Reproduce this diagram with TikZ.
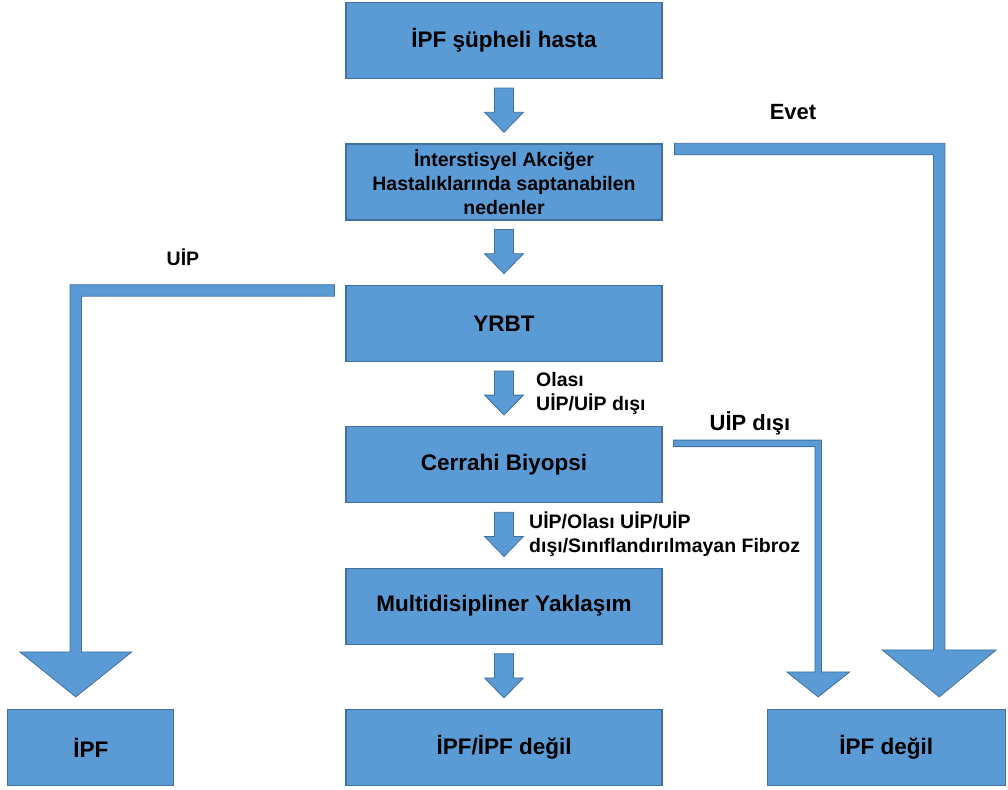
\documentclass[tikz,border=0pt]{standalone}
\usepackage{fontspec}
\setmainfont{Liberation Sans}
\usetikzlibrary{calc,positioning}
\definecolor{boxfill}{HTML}{5B9BD5}
\definecolor{boxline}{HTML}{41719C}
\tikzset{
  box/.style={draw=boxline, fill=boxfill, line width=1.2pt, minimum width=316pt, minimum height=76pt, align=center, inner sep=2pt, font=\bfseries\fontsize{22.5}{27}\selectfont},
  fatarrow/.style={draw=boxline, fill=boxfill, line width=0.8pt, line join=miter},
  lbl/.style={font=\bfseries\fontsize{19.5}{24}\selectfont, align=left, inner sep=0pt},
  biglbl/.style={lbl, font=\bfseries\fontsize{22}{26}\selectfont},
}
% block arrow between two boxes
\newcommand\fatdown[2]{%
  \filldraw[fatarrow] let \p1=($(#1.south)+(0,-9)$), \p2=($(#2.north)+(0,11)$) in
    (\x1-9.5pt,\y1) -- (\x1+9.5pt,\y1) -- (\x1+9.5pt,\y2+20pt) -- (\x1+19.5pt,\y2+20pt) -- (\x1,\y2)
    -- (\x1-19.5pt,\y2+20pt) -- (\x1-9.5pt,\y2+20pt) -- cycle;}
% bent block arrow: free end, tip, shaft, half head, head length, side
\newcommand\bentarrow[6]{%
  \filldraw[fatarrow] let \p1=(#1), \p2=(#2) in
    (\x1,\y1) -- ({\x2+(#6)*#3/2},\y1) -- ({\x2+(#6)*#3/2},{\y2+#5}) -- ({\x2+(#6)*#4},{\y2+#5}) -- (\x2,\y2)
    -- ({\x2-(#6)*#4},{\y2+#5}) -- ({\x2-(#6)*#3/2},{\y2+#5}) -- ({\x2-(#6)*#3/2},{\y1-#3}) -- (\x1,{\y1-#3}) -- cycle;}

\begin{document}
\begin{tikzpicture}[x=1pt, y=1pt, node distance=64.2pt]
	\useasboundingbox (0,0) rectangle (1008,-789);
	% Center
	\node[box] (susp) at (504,-40.5) {İPF şüpheli hasta};
	\node[box, below=of susp, font=\bfseries\fontsize{19.5}{24}\selectfont] (causes) {İnterstisyel Akciğer\\Hastalıklarında saptanabilen\\nedenler};
	\node[box, below=of causes] (yrbt) {YRBT};
	\node[box, below=of yrbt] (biopsy) {Cerrahi Biyopsi};
	\node[box, below=of biopsy] (mdt) {Multidisipliner Yaklaşım};
	\node[box, below=of mdt] (ipfq) {İPF/İPF değil};
	\node[box, left=171pt of ipfq, minimum width=166pt] (ipf) {İPF};
	\node[box, right=104pt of ipfq, minimum width=238pt] (notipf) {İPF değil};
	% Labels
	\node[biglbl] (evet) at (793,-112) {Evet};
	\node[lbl] (uip) at (183,-257) {UİP};
	\node[lbl, anchor=west] (possible) at (536,-393) {Olası\\UİP/UİP dışı};
	\node[biglbl] (nonuip) at (750,-423) {UİP dışı};
	\node[lbl, anchor=west] (fibroz) at (529,-534) {UİP/Olası UİP/UİP\\dışı/Sınıflandırılmayan Fibroz};
	% Arrows
	\fatdown{susp}{causes}
	\fatdown{causes}{yrbt}
	\fatdown{yrbt}{biopsy}
	\fatdown{biopsy}{mdt}
	\fatdown{mdt}{ipfq}
	\coordinate (uipend) at ($(yrbt.north west)+(-11,0)$);
	\coordinate (uiptip) at ($(ipf.north)+(-15,12)$);
	\bentarrow{uipend}{uiptip}{11.5}{56}{45}{-1}
	\coordinate (evetend) at ($(causes.north east)+(12,0)$);
	\coordinate (evettip) at ($(notipf.north)+(53,12)$);
	\bentarrow{evetend}{evettip}{11.5}{57}{47}{1}
	\coordinate (nonend) at ($(biopsy.north east)+(11,-14)$);
	\coordinate (nontip) at ($(notipf.north)+(-68,12)$);
	\bentarrow{nonend}{nontip}{6.5}{31.5}{25}{1}
\end{tikzpicture}
\end{document}
